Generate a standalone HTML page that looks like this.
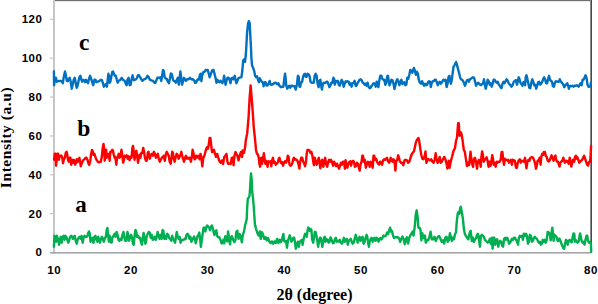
<!DOCTYPE html>
<html><head><meta charset="utf-8"><style>
html,body{margin:0;padding:0;background:#fff;}
body{width:598px;height:304px;overflow:hidden;position:relative;}
svg{position:absolute;left:0;top:0;display:block;}
</style></head><body>
<svg width="598" height="304" viewBox="0 0 598 304">
<rect x="0" y="0" width="598" height="304" fill="#fff"/>
<!-- plot border -->
<rect x="53" y="0" width="538" height="1" fill="#707070"/>
<rect x="53" y="1" width="538" height="0.4" fill="#c8c8c8"/>
<rect x="590" y="0" width="1" height="253" fill="#8c8c8c"/>
<rect x="591" y="0" width="1" height="253" fill="#4a4a4a"/>
<!-- axes -->
<rect x="53" y="0" width="2" height="254" fill="#c6c6c6"/>
<rect x="50" y="252" width="541" height="1.6" fill="#a5a5a5"/>
<g fill="#c8c8c8">
<rect x="50" y="18.6" width="3" height="1.3"/>
<rect x="50" y="57.5" width="3" height="1.3"/>
<rect x="50" y="96.4" width="3" height="1.3"/>
<rect x="50" y="135.3" width="3" height="1.3"/>
<rect x="50" y="174.1" width="3" height="1.3"/>
<rect x="50" y="213" width="3" height="1.3"/>
</g>
<g fill="none" stroke-width="2.4" stroke-linejoin="round" stroke-linecap="round">
<polyline stroke="#00b050" points="53.9,246.7 54.4,235.8 55.4,236.8 56.1,241.7 56.9,235.8 57.9,238.8 59.1,244.7 59.9,238.8 60.9,236.8 61.6,242.7 62.6,236.8 63.6,235.8 64.6,239.8 65.3,235.8 66.3,236.8 67.3,239.8 68.3,242.7 69.2,239.8 70.2,236.8 71.2,235.8 72.2,236.8 72.9,238.8 73.7,236.8 74.7,235.8 75.7,240.8 76.7,243.7 77.6,239.8 78.6,237.8 79.6,236.8 80.6,238.8 81.6,235.8 82.6,242.7 83.6,237.8 84.6,235.8 85.5,236.8 86.5,236.8 87.5,235.8 88.3,232.9 89.0,231.4 89.7,232.9 90.5,241.7 91.5,239.8 92.4,237.8 93.4,242.7 94.4,236.8 95.4,235.8 96.4,239.8 97.4,241.7 98.2,236.8 99.0,239.8 100.0,242.7 101.0,238.8 101.9,236.8 102.9,239.3 103.9,241.7 104.9,237.8 105.9,236.8 106.7,229.9 107.4,227.9 108.1,234.8 108.9,241.7 109.6,235.8 110.6,241.7 111.6,242.7 112.6,236.8 113.6,235.8 114.6,233.8 115.6,236.8 116.6,231.9 117.5,234.8 118.5,239.8 119.5,240.8 120.5,238.8 121.5,239.8 122.5,234.8 123.5,231.9 124.5,237.8 125.4,240.8 126.4,240.8 127.4,231.9 128.1,234.8 129.1,240.8 130.1,236.8 131.1,234.8 132.1,237.8 133.0,243.7 133.7,244.7 134.7,234.8 135.5,229.9 136.3,231.9 137.0,236.8 138.0,235.8 139.0,237.8 140.0,237.8 140.9,241.7 141.9,244.7 142.9,236.8 143.6,232.9 144.4,237.8 145.4,243.7 146.0,241.7 146.8,235.8 147.8,233.8 148.8,231.9 149.8,232.9 150.7,237.8 151.7,234.8 152.7,239.8 153.7,238.8 154.7,236.8 155.7,239.8 156.7,236.8 157.6,231.9 158.6,235.8 159.6,238.8 160.6,234.8 161.6,238.8 162.6,229.9 163.4,230.9 164.3,238.8 165.2,235.8 166.2,238.8 167.2,233.8 168.2,234.8 169.2,237.8 170.2,238.8 171.2,240.8 172.2,235.8 173.1,238.8 174.1,240.8 175.1,242.7 176.1,235.8 176.8,231.9 177.6,235.8 178.6,238.8 179.6,236.8 180.6,242.7 181.5,239.8 182.5,240.3 183.5,239.8 184.5,238.8 185.5,239.3 186.5,234.8 187.5,233.8 188.4,234.8 189.4,238.8 190.4,236.8 191.4,241.7 192.4,239.8 193.4,237.8 194.2,236.5 194.9,239.7 195.8,243.3 196.6,239.7 197.6,236.1 198.5,235.0 199.3,232.6 200.2,239.7 200.9,246.8 201.7,240.9 202.5,235.0 203.5,227.8 204.4,227.8 205.4,231.4 206.4,226.7 207.3,225.5 208.2,226.7 209.2,227.8 210.0,230.2 210.9,226.7 211.8,225.5 212.7,227.8 213.5,231.4 214.4,235.0 215.3,231.4 216.3,230.2 217.2,236.1 218.2,237.3 219.4,237.3 220.5,239.7 221.5,243.3 222.4,243.3 223.4,239.7 224.3,243.3 225.3,236.1 226.2,239.7 227.2,241.5 228.1,231.4 229.1,238.5 230.0,244.4 231.0,237.3 231.9,236.1 233.1,239.7 234.3,242.1 235.5,239.7 236.3,232.0 237.3,230.7 238.5,238.9 239.6,234.0 240.9,236.4 241.8,242.2 242.9,234.8 244.2,230.7 245.0,225.7 245.9,222.4 246.7,219.2 247.2,207.5 247.8,198.8 249.4,196.4 249.9,191.7 250.5,181.0 251.0,173.4 251.8,181.0 252.2,191.7 253.0,198.0 253.8,207.5 254.3,215.4 254.9,224.1 256.1,229.0 257.4,233.1 258.7,235.6 259.8,231.5 260.7,238.9 262.0,232.3 263.1,234.8 264.3,238.9 265.6,237.2 266.9,240.5 268.1,238.1 269.2,241.4 270.5,243.0 271.9,241.4 273.2,243.8 274.5,241.4 275.8,243.0 277.1,238.9 278.4,243.0 279.6,239.7 280.7,242.2 282.1,238.9 283.4,234.0 284.0,240.8 285.0,241.7 286.0,240.8 287.0,247.7 287.9,240.8 288.9,237.8 289.7,235.3 290.5,237.8 291.4,241.7 292.4,239.8 293.4,237.8 294.2,237.8 294.9,241.7 295.8,248.7 296.8,245.7 297.8,241.7 298.8,246.7 299.8,241.7 300.8,240.8 301.8,239.8 302.6,244.7 303.3,240.8 304.1,236.8 305.1,233.8 305.9,234.3 306.7,236.8 307.5,230.9 308.3,227.4 309.1,228.4 309.9,230.9 310.7,228.9 311.4,229.9 312.2,239.8 313.2,242.7 314.0,237.8 314.8,231.9 315.6,231.9 316.4,235.8 317.2,239.8 318.1,246.7 319.0,241.7 320.0,237.8 320.7,237.8 321.5,241.7 322.3,246.7 323.1,241.7 324.0,237.8 324.7,236.8 325.5,241.7 326.3,238.8 327.0,240.8 327.8,239.8 328.6,242.7 329.6,241.7 330.6,237.3 331.6,239.8 332.3,241.7 333.0,243.2 334.0,242.7 335.0,238.8 335.9,237.8 336.9,241.7 337.9,240.8 338.9,241.7 339.9,239.8 340.9,242.7 341.9,243.7 342.9,241.7 343.8,237.8 344.8,241.7 345.8,239.8 346.8,238.8 347.8,244.7 348.8,240.8 349.8,239.8 350.8,238.8 351.7,241.7 352.7,243.7 353.7,242.7 354.7,238.8 355.7,234.8 356.7,238.8 357.7,242.7 358.7,238.8 359.6,236.8 360.6,240.8 361.6,237.8 362.6,236.8 363.6,243.7 364.6,241.7 365.6,237.8 366.6,234.8 367.3,236.8 368.1,242.7 368.9,246.7 369.7,241.7 370.7,238.8 371.7,237.8 372.7,241.7 373.7,238.8 374.6,237.8 375.6,240.8 376.6,237.8 377.6,238.8 378.6,241.7 379.6,238.8 380.6,238.0 381.3,239.5 382.4,238.0 383.5,235.6 384.7,236.4 386.0,235.6 387.1,232.4 388.2,234.0 389.2,230.1 390.1,227.7 391.1,231.6 392.0,230.9 393.0,235.6 394.2,238.0 395.5,237.2 396.7,237.2 398.0,237.2 399.3,238.8 400.2,241.9 401.3,238.8 402.4,236.4 403.7,239.5 404.8,244.3 405.9,238.8 406.9,237.2 408.1,243.5 409.2,238.0 410.3,235.6 411.6,233.2 412.7,231.6 413.5,235.6 414.4,229.3 415.1,223.0 415.7,215.1 416.7,210.3 417.6,216.6 418.4,227.7 419.5,227.7 420.4,229.3 421.4,240.3 422.3,233.2 423.6,238.0 424.9,235.6 425.8,242.7 427.1,240.3 428.2,240.3 429.4,236.8 430.6,231.6 431.8,239.3 433.1,239.3 434.5,236.8 435.7,241.0 436.9,238.5 437.9,236.8 439.1,235.9 440.3,238.5 441.7,241.9 443.0,240.2 444.2,243.6 445.4,237.6 446.5,236.8 447.7,241.9 448.9,240.2 449.9,233.3 450.9,236.8 451.9,241.0 453.0,237.6 454.0,239.3 455.0,234.2 456.0,232.5 456.7,222.2 457.7,213.7 458.4,212.0 459.5,213.7 460.1,208.5 460.8,206.8 461.8,212.0 462.9,218.8 463.9,229.1 464.9,234.2 465.9,235.9 467.0,237.6 468.3,239.3 469.7,232.5 470.7,230.8 471.8,241.0 472.8,237.6 473.8,241.9 475.2,239.3 476.2,238.0 477.0,234.8 478.0,233.8 479.0,239.8 479.9,246.7 480.9,235.8 481.9,234.8 482.9,235.8 483.9,236.8 484.9,239.8 485.9,240.8 486.9,241.7 487.8,242.7 488.8,241.7 489.8,238.8 490.8,243.7 491.8,237.8 492.6,248.7 493.4,237.8 494.3,237.8 495.2,244.7 496.2,239.8 497.2,239.3 498.2,246.7 499.2,242.7 500.2,240.8 501.2,241.7 502.2,245.7 503.1,246.7 504.1,238.8 505.1,237.8 506.1,239.8 507.1,237.8 508.1,239.8 509.1,243.7 510.1,242.7 511.0,240.8 512.0,238.8 513.0,239.8 514.0,237.8 515.0,237.8 516.0,239.8 517.0,241.7 518.0,244.7 518.9,237.8 519.9,235.8 520.9,236.8 521.9,235.8 522.9,239.8 523.9,233.8 524.9,236.0 526.0,233.8 527.0,235.8 527.9,243.7 528.9,241.7 529.9,234.8 530.9,235.8 531.9,241.7 532.9,240.8 533.9,237.8 534.9,236.8 535.8,237.8 536.8,238.8 537.8,240.8 538.8,242.7 539.8,241.7 540.8,244.7 541.8,243.7 542.8,239.8 543.7,241.7 544.7,239.8 545.7,242.7 546.7,239.8 547.7,231.9 548.7,232.4 549.7,234.0 550.7,240.3 551.7,231.9 552.3,227.7 553.0,234.0 553.6,240.8 554.5,234.8 555.5,235.8 556.5,236.8 557.5,240.8 558.4,241.0 559.4,238.5 560.3,240.5 561.3,243.2 562.3,245.7 563.3,248.0 564.2,248.7 565.0,243.7 566.0,239.8 567.0,241.2 567.7,244.7 568.7,240.8 569.7,239.8 570.7,241.7 571.7,242.2 572.7,237.0 573.5,233.4 574.3,233.8 574.9,241.7 575.6,239.8 576.6,241.7 577.6,242.7 578.6,241.7 579.4,236.8 580.1,233.4 580.8,236.8 581.6,240.8 582.6,242.7 583.5,241.7 584.5,244.7 585.5,239.8 586.5,235.8 587.3,235.8 588.0,240.8 589.0,242.7 590.0,241.7 590.9,243.7 591.2,251.6"/>
<polyline stroke="#ff0000" points="54.1,159.7 54.7,153.8 55.4,153.8 56.1,165.7 56.7,159.7 57.4,153.8 58.1,153.8 58.9,159.7 59.7,155.8 60.7,155.8 61.6,155.8 62.3,157.8 63.0,163.2 63.8,159.7 64.8,157.8 65.8,152.8 66.6,151.8 67.3,154.8 68.0,159.7 68.8,161.7 69.7,157.8 70.5,157.8 71.2,164.7 71.9,160.7 72.7,159.7 73.5,162.7 74.2,160.2 75.2,164.7 75.9,162.7 76.7,159.2 77.4,162.2 78.4,159.7 79.4,157.8 80.1,161.7 80.8,166.2 81.6,163.7 82.6,161.2 83.6,159.7 84.6,159.2 85.5,157.8 86.5,157.8 87.5,159.7 88.5,163.7 89.3,164.7 90.3,160.7 91.0,154.8 92.0,149.9 92.6,150.9 93.4,154.8 94.4,153.8 95.4,156.8 96.4,159.7 97.4,161.2 98.4,162.2 99.5,162.2 100.8,161.7 101.8,156.8 102.7,147.9 103.5,143.9 104.1,147.9 104.7,160.7 105.4,150.8 106.1,149.8 106.9,157.7 107.9,154.8 108.9,153.8 109.6,160.7 110.4,151.8 111.3,151.8 112.3,149.8 113.0,150.8 113.8,154.8 114.6,157.7 115.3,156.8 116.3,164.7 117.0,158.7 117.7,157.7 118.7,153.8 119.7,157.7 120.7,154.8 121.5,149.8 122.3,155.8 123.2,162.7 124.0,159.7 124.7,155.8 125.6,156.8 126.6,155.3 127.6,158.7 128.6,156.3 129.6,160.2 130.6,156.8 131.6,157.7 132.4,147.9 133.0,145.9 133.7,150.8 134.5,159.7 135.3,154.8 136.3,150.8 137.1,155.8 138.0,162.7 138.8,157.7 139.5,154.8 140.4,157.7 141.4,152.8 142.4,152.8 143.2,147.9 143.9,150.8 144.9,157.7 145.9,160.7 146.8,160.7 147.8,152.8 148.5,151.8 149.2,155.8 149.9,158.7 150.9,154.8 151.9,153.8 152.9,155.8 153.9,151.8 154.9,153.8 155.9,157.7 156.9,155.8 157.8,153.8 158.8,158.7 159.8,161.7 160.8,159.7 161.8,157.7 162.8,156.8 163.8,155.8 164.8,160.7 165.7,154.8 166.7,151.8 167.7,153.8 168.7,155.8 169.7,161.7 170.7,163.7 171.5,157.7 172.2,151.8 172.9,152.8 173.6,157.7 174.6,161.7 175.6,157.7 176.6,153.8 177.6,154.8 178.6,158.7 179.6,156.8 180.6,154.8 181.3,151.8 182.0,154.8 183.0,158.7 184.0,161.7 185.0,157.7 186.0,155.8 187.0,158.7 188.0,157.7 188.9,158.7 189.9,157.7 190.9,161.7 191.9,156.8 192.6,149.8 193.4,152.8 194.4,158.7 194.9,159.3 196.1,155.7 197.3,157.5 198.5,155.7 199.7,159.3 200.5,153.9 201.3,156.9 202.3,166.4 203.2,158.1 204.4,155.7 205.6,151.0 206.8,147.4 208.0,148.6 208.9,143.8 209.6,137.9 210.4,137.9 211.2,145.0 212.0,152.1 213.0,151.0 213.9,149.8 214.9,153.3 216.0,156.9 217.2,153.9 218.4,158.1 219.6,161.6 220.8,162.8 222.0,160.4 223.1,164.0 224.3,156.9 225.5,155.7 226.5,153.9 227.4,161.6 228.4,164.0 229.5,163.4 230.7,164.0 231.7,158.1 232.6,157.5 233.6,165.2 234.5,155.7 235.5,152.1 236.4,153.9 237.4,155.7 238.5,160.4 239.7,155.7 240.9,152.1 242.1,156.9 242.6,150.4 243.9,152.9 245.0,148.0 245.9,139.7 247.2,133.2 248.6,116.8 249.6,98.4 250.6,85.4 251.7,98.4 253.1,116.8 253.7,126.6 254.4,133.2 255.4,143.0 256.0,149.9 256.8,153.3 257.8,154.3 258.7,157.3 259.4,163.7 260.1,166.7 260.7,158.8 261.4,157.8 262.1,163.7 262.9,159.7 263.9,153.3 264.7,159.7 265.4,163.7 266.0,160.7 266.8,163.7 267.6,166.7 268.3,161.2 269.3,161.7 270.3,161.2 271.3,166.2 272.3,159.7 273.0,157.8 273.7,162.7 274.7,161.7 275.7,164.7 276.7,163.7 277.7,162.7 278.7,158.8 279.5,157.8 280.2,160.7 281.1,163.2 282.1,162.2 283.1,165.7 284.1,162.2 285.1,161.2 286.1,162.7 287.1,159.7 287.8,155.8 288.6,156.8 289.3,163.7 290.3,165.7 291.3,165.2 292.3,163.2 293.3,158.8 294.0,157.8 294.7,159.7 295.5,159.2 296.4,159.7 297.4,160.7 298.4,163.7 299.4,168.6 300.2,161.7 301.2,157.8 302.2,157.8 303.2,161.7 304.0,162.7 305.0,166.2 306.0,161.7 306.7,153.8 307.4,149.9 308.4,149.9 309.4,150.4 310.4,152.9 311.4,151.9 312.4,155.8 313.4,162.7 314.0,165.2 314.8,157.8 315.8,161.7 316.8,164.7 317.8,160.8 318.8,157.8 319.6,162.7 320.3,168.2 321.2,161.7 322.2,159.8 323.2,166.7 324.2,161.7 325.2,157.8 326.2,164.7 327.2,166.7 328.2,161.7 329.1,159.8 330.1,161.7 331.1,159.8 332.1,162.7 333.1,165.7 334.1,161.7 335.1,163.7 336.1,166.2 337.0,163.7 338.0,165.7 339.0,168.7 340.0,165.7 341.0,162.7 342.0,164.7 343.0,161.7 344.0,161.7 344.9,168.7 345.6,160.3 346.4,163.7 347.4,167.7 348.4,163.7 349.4,161.7 350.4,161.2 351.0,165.7 352.0,161.7 353.0,160.8 353.9,161.7 354.9,166.7 355.9,166.2 356.9,162.7 357.7,163.7 358.7,166.7 359.7,170.6 360.7,163.7 361.6,161.7 362.3,155.8 363.0,155.8 363.8,161.7 364.8,159.8 365.8,167.7 366.8,164.7 367.8,161.7 368.8,162.2 369.7,166.7 370.7,161.7 371.7,163.7 372.7,167.7 373.5,155.8 374.2,155.8 375.2,159.8 376.2,158.8 377.1,161.7 378.1,163.7 379.1,164.7 380.1,161.7 381.1,162.7 382.1,164.7 383.1,160.3 384.1,159.3 385.0,159.8 386.0,158.8 387.0,157.8 388.0,161.2 389.0,162.7 390.0,160.8 390.7,157.8 391.5,159.3 392.4,161.7 393.4,159.3 394.4,160.3 395.4,170.6 396.2,161.7 397.2,159.8 398.2,155.3 399.0,157.8 399.8,161.0 401.0,162.8 402.1,162.8 403.3,165.2 404.5,160.4 405.7,159.8 406.9,160.4 408.1,162.8 409.3,161.6 410.4,158.1 411.6,154.5 412.8,152.7 414.0,151.5 414.8,147.4 415.8,142.7 416.7,140.3 417.5,139.1 418.4,137.9 419.3,141.5 420.3,148.6 421.2,154.5 422.3,158.7 423.5,159.3 424.7,155.7 425.5,151.5 426.4,162.8 427.6,159.3 428.8,159.3 430.0,160.4 431.2,159.3 432.4,161.6 433.5,162.8 434.7,159.3 435.7,153.3 436.5,159.3 437.7,162.8 438.9,159.3 439.7,156.9 440.7,162.8 441.8,161.6 443.0,159.3 444.2,156.9 445.4,159.3 446.6,164.0 447.4,168.6 448.7,160.6 449.6,167.7 451.0,160.6 452.2,156.2 453.5,150.9 454.9,148.2 456.0,141.1 457.0,137.5 458.1,123.3 458.8,123.3 459.5,135.8 460.6,132.2 461.6,134.0 462.7,141.1 463.8,150.0 464.8,151.7 465.9,158.9 467.0,166.0 468.2,162.4 469.1,165.1 470.5,151.7 471.8,162.4 473.0,166.8 474.0,158.8 475.0,157.8 476.0,161.7 477.0,168.7 477.9,161.7 478.9,159.8 479.9,161.7 480.7,166.7 481.4,156.8 482.1,151.4 482.9,154.8 483.7,161.7 484.7,159.8 485.6,159.3 486.6,157.3 487.6,160.8 488.6,166.7 489.6,161.7 490.6,165.7 491.3,161.7 492.3,155.3 493.0,158.8 493.7,164.7 494.7,162.7 495.7,166.7 496.7,161.7 497.7,162.7 498.7,161.7 499.7,161.7 500.7,159.8 501.6,151.9 502.4,151.9 503.2,159.8 504.0,164.7 505.0,158.8 506.0,159.8 507.0,160.3 508.0,159.8 508.9,162.7 509.9,160.8 510.9,159.8 511.9,164.7 512.9,159.8 513.9,160.3 514.9,160.8 515.9,167.7 516.8,167.7 517.8,162.7 518.8,160.3 519.8,159.3 520.8,162.7 521.8,160.8 522.8,161.0 524.0,161.7 525.0,157.8 525.8,163.7 526.4,168.2 527.4,161.7 528.4,159.8 529.4,160.8 530.4,157.8 531.4,157.3 532.4,157.3 533.4,158.3 534.3,160.8 535.3,164.7 536.0,168.7 536.8,165.7 537.6,160.8 538.6,160.8 539.6,157.8 540.6,164.7 541.3,156.8 542.2,153.8 543.2,154.8 543.9,151.9 544.9,151.9 545.7,155.8 546.7,156.8 547.7,160.8 548.7,161.5 549.6,160.5 550.6,157.8 551.6,155.3 552.6,158.3 553.6,160.7 554.6,156.8 555.4,155.5 556.1,159.3 557.0,161.5 557.9,161.7 558.9,164.7 559.6,166.6 560.3,162.7 561.3,161.7 562.3,160.7 563.3,157.7 564.0,159.7 564.8,162.7 565.8,161.7 566.8,160.7 567.7,161.7 568.7,163.7 569.7,157.7 570.5,160.7 571.3,166.6 572.2,162.7 573.2,159.7 574.2,161.7 575.1,156.8 575.9,155.8 576.6,158.7 577.4,157.3 578.2,159.7 579.2,162.7 580.2,161.7 581.2,160.7 582.2,159.7 583.1,157.7 584.1,155.8 585.1,158.7 586.1,161.7 587.1,164.7 588.1,165.6 589.1,161.7 590.1,161.7 590.6,155.8 591.1,145.9"/>
<polyline stroke="#0070c0" points="53.9,71.4 54.1,85.2 54.9,77.8 55.9,77.8 56.7,81.7 57.4,80.8 58.9,81.2 60.4,80.8 61.8,81.2 62.8,83.2 63.8,76.8 65.0,71.4 65.8,74.8 66.8,80.8 67.8,81.2 68.8,78.8 69.7,77.8 70.7,81.7 71.7,88.7 72.7,84.7 73.7,79.8 74.7,77.8 75.7,82.7 76.7,87.7 77.6,85.7 78.6,80.8 79.6,76.8 80.4,75.8 81.1,78.8 82.1,81.7 83.1,79.8 84.1,80.3 85.0,82.2 86.0,79.8 87.0,81.7 88.0,83.2 89.0,78.8 90.0,75.8 91.0,78.3 92.0,81.7 93.2,85.2 94.4,79.8 95.4,79.8 96.4,82.2 97.9,81.7 99.5,80.8 101.0,79.8 102.0,80.3 102.9,83.2 103.9,86.7 104.9,85.2 105.9,84.2 106.9,86.7 107.7,79.8 108.4,73.8 109.1,75.8 109.6,82.7 110.3,81.7 111.3,76.8 112.3,71.9 113.0,71.4 113.8,73.4 114.8,75.8 115.8,75.8 116.8,79.8 117.7,82.7 118.7,80.8 119.7,80.3 120.7,79.3 121.7,77.8 122.7,79.3 123.7,80.3 124.7,80.8 125.6,83.2 126.6,85.2 127.6,79.3 128.6,77.8 129.6,85.2 130.6,84.7 131.6,79.3 132.6,75.3 133.3,78.8 134.0,80.3 135.0,79.8 136.0,79.3 137.0,77.8 138.0,75.3 139.0,75.3 140.0,76.8 140.9,78.8 142.4,80.8 143.9,79.3 145.4,78.8 146.4,77.8 147.5,75.8 148.5,76.8 149.9,79.8 151.4,80.3 152.9,80.8 154.4,82.7 155.4,82.7 156.4,80.3 157.4,77.8 158.8,77.8 160.3,77.3 161.3,80.8 162.3,74.8 163.0,69.9 163.8,70.9 164.6,76.8 165.5,78.3 166.7,78.8 167.9,81.7 168.9,83.2 169.9,78.8 170.9,73.4 171.9,74.3 172.9,79.3 173.8,80.8 174.8,81.2 175.8,82.7 176.8,79.8 177.8,77.8 178.8,84.7 179.8,75.8 180.4,71.4 181.0,75.8 182.0,84.7 183.0,81.7 184.0,77.8 185.0,79.3 186.0,80.8 187.0,79.3 188.4,79.3 189.9,77.8 191.4,79.3 192.9,79.3 194.4,80.8 195.0,82.7 196.0,82.7 197.0,80.3 197.9,79.3 198.9,79.8 199.9,74.8 200.7,73.8 201.4,81.2 202.1,75.8 203.1,72.4 204.1,71.9 204.9,71.4 205.6,69.9 206.6,70.4 207.6,69.9 208.6,72.9 209.6,77.3 210.6,74.8 211.6,71.9 212.6,69.9 213.5,69.9 214.5,73.8 215.5,77.8 216.5,82.7 217.5,79.8 218.5,81.7 219.5,82.2 220.5,80.8 221.4,81.7 222.4,83.2 223.4,80.3 224.1,75.8 224.8,80.3 225.6,84.7 226.6,80.3 227.6,77.8 228.6,77.8 229.5,79.3 230.5,83.2 231.5,78.3 232.5,77.8 233.5,79.3 234.7,75.8 235.5,79.8 236.4,83.2 237.4,80.8 238.4,78.3 239.4,77.8 240.4,77.3 241.4,77.3 242.3,71.0 243.2,60.5 244.2,59.2 245.0,61.8 245.9,54.0 247.1,32.5 248.1,23.3 248.9,21.2 249.7,23.3 250.3,35.0 251.1,50.0 251.4,57.9 252.1,65.8 253.1,67.8 254.2,71.0 255.1,75.7 256.0,77.0 257.1,76.3 258.1,80.3 259.0,82.2 259.9,78.3 261.0,80.9 261.9,81.6 263.0,82.9 263.6,86.2 264.7,82.2 265.6,82.2 266.5,85.5 267.6,85.5 268.6,83.6 269.6,80.9 270.5,84.2 271.5,84.9 273.5,83.9 274.0,83.2 275.5,82.7 277.0,84.2 278.4,83.2 279.4,85.7 280.9,87.2 282.4,86.7 283.4,86.7 284.4,77.8 285.1,73.8 285.6,77.8 286.3,85.7 287.3,88.7 288.3,86.7 289.3,85.7 290.3,87.7 291.3,85.7 292.3,85.7 293.2,86.2 294.7,86.2 295.7,89.6 296.9,84.7 297.9,75.8 298.7,76.8 299.5,86.7 300.2,86.7 301.1,82.7 302.1,81.7 303.1,76.8 304.1,74.3 305.1,73.8 305.8,76.8 306.6,76.8 307.6,73.8 308.6,74.3 309.5,75.8 310.5,81.7 311.5,82.7 312.7,82.7 313.7,82.7 314.7,75.8 315.7,73.8 316.6,75.8 317.6,83.7 318.6,87.2 319.6,80.8 320.4,79.8 321.2,85.7 321.9,89.6 322.9,83.7 323.8,82.7 325.0,83.2 326.4,81.7 327.4,81.7 328.4,84.2 329.4,87.2 330.4,85.7 331.4,82.7 332.4,82.7 333.4,77.8 334.0,78.8 334.8,84.7 335.8,80.8 336.8,81.7 337.8,80.8 338.8,84.7 339.8,85.7 340.8,82.2 341.7,79.8 342.7,81.7 343.7,86.7 344.7,83.7 345.7,81.2 346.7,81.7 347.7,81.2 348.7,81.7 349.6,84.7 350.6,83.2 351.6,86.7 352.6,83.2 353.6,82.7 354.6,80.8 355.6,85.7 356.6,85.7 357.5,83.2 358.5,81.7 359.5,79.8 360.7,79.3 361.7,80.3 362.7,82.7 363.7,83.2 364.6,84.7 365.6,83.7 366.6,85.7 367.6,82.7 368.6,86.7 369.6,88.2 370.6,87.7 371.6,85.7 372.0,85.7 373.0,83.7 373.9,83.2 374.9,83.7 375.7,86.7 376.7,81.7 377.7,84.2 378.4,87.1 379.4,79.7 380.4,75.8 381.4,75.8 382.3,78.8 383.3,79.7 384.3,79.7 385.3,84.7 386.3,82.7 387.3,76.3 388.0,75.8 388.8,81.2 389.5,85.2 390.5,82.7 391.5,79.7 392.5,80.2 393.5,83.7 394.5,89.1 395.5,84.7 396.5,80.7 397.4,79.2 398.4,81.7 399.4,85.2 400.4,81.7 401.4,79.7 402.4,84.2 403.4,82.7 404.4,82.2 405.3,85.2 406.3,84.7 407.3,77.8 408.3,78.8 409.3,74.8 410.3,69.9 411.3,70.9 412.3,72.8 413.2,69.9 413.9,67.9 414.9,70.9 415.9,74.8 416.9,71.8 417.9,73.8 418.8,79.7 419.8,82.7 421.0,83.7 422.1,81.2 423.1,83.7 424.1,85.7 425.1,83.7 426.1,85.2 427.1,84.7 428.1,82.2 429.1,81.2 430.0,81.7 430.8,87.1 431.8,82.7 432.8,81.2 433.8,81.2 434.8,79.7 435.8,79.7 436.8,82.2 437.7,85.2 438.7,83.2 439.7,81.7 440.7,83.7 441.7,82.7 442.7,80.7 443.7,79.7 444.7,80.7 445.6,79.7 446.6,87.1 447.6,83.7 448.6,76.8 449.4,75.8 450.1,80.7 450.9,83.7 451.8,79.7 452.7,72.8 453.5,66.9 454.5,65.4 455.5,63.0 456.1,62.0 457.0,64.9 458.0,68.9 459.0,72.8 460.0,76.8 460.9,79.2 461.9,79.7 462.9,80.7 463.9,82.7 464.9,85.7 465.9,83.2 466.9,80.3 468.0,79.8 469.0,81.7 469.9,79.3 470.9,78.8 471.9,77.8 473.1,77.3 474.1,77.8 475.1,81.7 476.1,85.7 477.1,83.7 478.0,82.7 479.0,83.7 480.0,84.7 481.0,85.2 482.0,84.2 483.0,83.2 484.0,79.3 485.0,85.7 485.7,88.7 486.7,84.7 487.7,79.8 488.7,81.2 489.7,84.7 490.7,83.2 491.7,86.7 492.7,83.7 493.6,79.8 494.6,79.8 495.6,81.7 496.6,82.7 497.6,81.7 498.6,84.2 499.6,85.7 500.6,87.2 501.5,88.2 502.5,83.7 503.5,81.7 504.5,83.2 505.5,81.2 506.5,79.3 507.5,80.3 508.4,82.7 509.4,84.2 510.4,85.2 511.4,86.7 512.4,85.7 513.4,82.7 514.4,81.2 515.4,80.3 516.0,80.3 517.0,84.7 517.9,80.8 518.7,77.3 519.4,78.8 520.4,82.7 521.4,84.2 522.4,85.7 523.4,82.2 524.4,81.7 525.1,85.2 525.8,76.8 526.5,75.3 527.3,78.8 528.3,83.2 529.3,87.7 530.3,88.2 531.3,82.7 532.3,79.3 533.2,81.7 534.2,85.2 535.2,84.7 536.2,88.7 537.2,85.7 538.2,82.2 539.2,81.7 540.2,84.7 541.1,83.7 542.1,82.2 543.1,79.3 544.1,77.3 545.1,79.3 546.1,83.2 547.1,83.2 548.1,79.3 549.0,75.8 550.0,79.8 551.0,80.8 552.0,81.7 552.9,86.2 553.9,86.7 554.9,82.7 555.9,81.2 557.4,81.7 558.9,81.7 559.8,79.3 560.8,81.7 562.3,83.2 563.3,84.7 564.3,87.2 565.3,85.7 566.3,84.2 567.2,83.2 568.2,85.7 568.9,88.7 569.7,86.2 570.7,85.7 571.7,86.2 572.7,85.7 573.7,86.7 574.7,85.7 575.6,85.7 576.6,85.2 577.6,85.7 578.6,86.7 579.6,84.7 580.6,83.2 581.6,85.2 582.6,79.8 583.5,79.8 584.5,77.8 585.5,75.3 586.5,77.8 587.5,84.7 588.5,86.7 589.5,86.7 590.4,85.7 590.9,82.7"/>
</g>
<g font-family="Liberation Sans, sans-serif" font-weight="bold" font-size="11.5" letter-spacing="0.5" fill="#000" text-anchor="end">
<text x="42.4" y="23.1">120</text>
<text x="42.4" y="62">100</text>
<text x="42.4" y="100.9">80</text>
<text x="42.4" y="139.8">60</text>
<text x="42.4" y="178.6">40</text>
<text x="42.4" y="217.5">20</text>
<text x="42.4" y="256.4">0</text>
</g>
<g font-family="Liberation Sans, sans-serif" font-weight="bold" font-size="11.5" letter-spacing="0.5" fill="#000" text-anchor="middle">
<text x="54.2" y="273.6">10</text>
<text x="130.9" y="273.6">20</text>
<text x="207.6" y="273.6">30</text>
<text x="284.3" y="273.6">40</text>
<text x="361" y="273.6">50</text>
<text x="437.7" y="273.6">60</text>
<text x="514.4" y="273.6">70</text>
<text x="591" y="273.6">80</text>
</g>
<g font-family="Liberation Serif, serif" font-weight="bold" fill="#000">
<text x="314.5" y="300.4" font-size="16" text-anchor="middle">2θ (degree)</text>
<text transform="translate(10.8,137.5) rotate(-90)" font-size="15.5" letter-spacing="0.55" text-anchor="middle">Intensity (a.u)</text>
<text x="79" y="50.3" font-size="23.5">c</text>
<text x="77.2" y="136.2" font-size="23.5">b</text>
<text x="75.2" y="211.6" font-size="23">a</text>
</g>
</svg>
</body></html>
